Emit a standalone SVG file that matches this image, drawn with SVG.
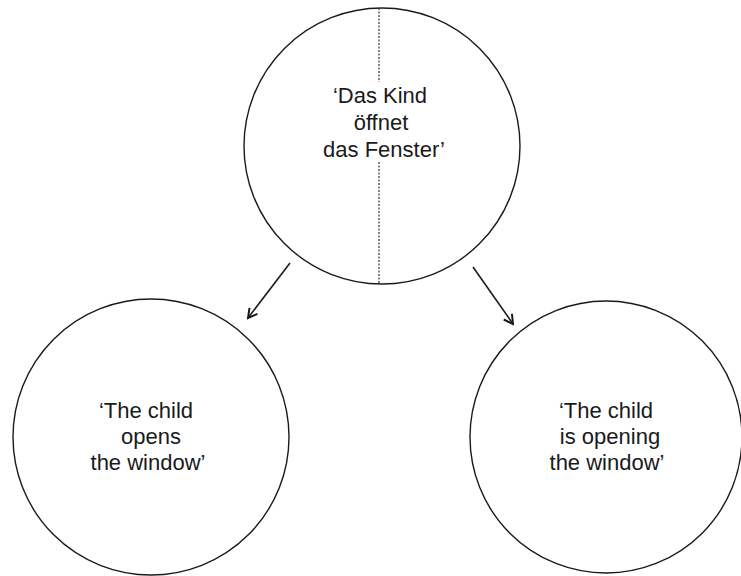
<svg xmlns="http://www.w3.org/2000/svg" width="741" height="576" viewBox="0 0 741 576">
<style>
.node{fill:none;stroke:#1a1a1a;stroke-width:1.4}
.lbl{font-family:"Liberation Sans",Arial,sans-serif;font-size:22px;fill:#1a1a1a;text-anchor:middle}
.edge{fill:none;stroke:#1a1a1a;stroke-width:1.6}
.div{stroke:#333;stroke-width:1.2;stroke-dasharray:2 1.5}
</style>
<defs>
<marker id="ah" viewBox="0 0 12 12" refX="10" refY="6" markerWidth="12" markerHeight="12" markerUnits="userSpaceOnUse" orient="auto">
<path d="M1,1 L10,6 L1,11" fill="none" stroke="#1a1a1a" stroke-width="2"/>
</marker>
</defs>
<rect width="741" height="576" fill="#fff"/>
<g id="top">
<circle class="node" cx="382" cy="146" r="138"/>
<line class="div" x1="379" y1="8" x2="379" y2="82"/>
<line class="div" x1="379" y1="162" x2="379" y2="284"/>
<text class="lbl"><tspan x="380" y="103">‘Das Kind</tspan><tspan x="381" y="130">öffnet</tspan><tspan x="384" y="157">das Fenster’</tspan></text>
</g>
<g id="left">
<circle class="node" cx="151" cy="437" r="138"/>
<text class="lbl"><tspan x="146" y="418">‘The child</tspan><tspan x="151" y="444">opens</tspan><tspan x="148" y="470">the window’</tspan></text>
</g>
<g id="right">
<circle class="node" cx="606" cy="437" r="136"/>
<text class="lbl"><tspan x="606" y="418">‘The child</tspan><tspan x="610" y="444">is opening</tspan><tspan x="607" y="470">the window’</tspan></text>
</g>
<g id="connectors">
<line class="edge" x1="290" y1="263" x2="248" y2="318" marker-end="url(#ah)"/>
<line class="edge" x1="473" y1="267" x2="513" y2="324" marker-end="url(#ah)"/>
</g>
</svg>
